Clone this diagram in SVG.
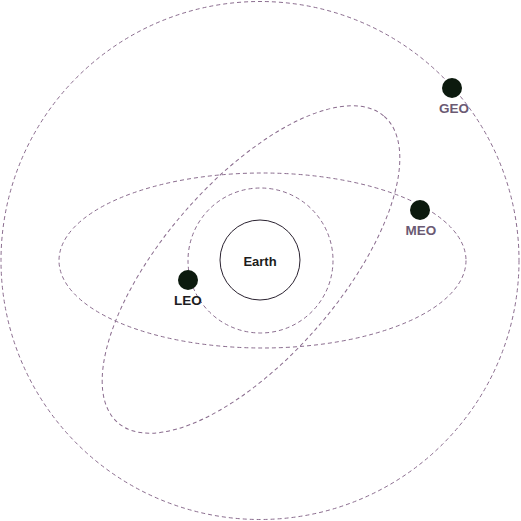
<svg xmlns="http://www.w3.org/2000/svg" width="521" height="521" viewBox="0 0 521 521">
<style>
.orbit{fill:none;stroke:#8a6c8e;stroke-width:1;stroke-dasharray:4 3}
.sat{fill:#0c1a0e}
.lbl{font-family:"Liberation Sans",Arial,sans-serif;font-weight:bold;font-size:13.5px;text-anchor:middle}
</style>
<rect width="521" height="521" fill="#ffffff"/>
<g id="orbits">
<circle id="geo-orbit" class="orbit" cx="260" cy="260.5" r="259"/>
<ellipse id="meo-orbit-h" class="orbit" cx="262.5" cy="260.5" rx="203.5" ry="87.5"/>
<ellipse id="meo-orbit-t" class="orbit" cx="251" cy="269.5" rx="203" ry="88" transform="rotate(-49 251 269.5)"/>
<circle id="leo-orbit" class="orbit" cx="260.5" cy="260.5" r="72.5"/>
</g>
<g id="earth">
<circle cx="260" cy="260" r="40" fill="#ffffff" stroke="#2a2230" stroke-width="1"/>
<text class="lbl" x="260" y="266" fill="#1c1c1c" style="font-size:13px">Earth</text>
</g>
<g id="leo">
<circle class="sat" cx="188" cy="280" r="10"/>
<text class="lbl" x="188" y="305" fill="#1c1c22">LEO</text>
</g>
<g id="meo">
<circle class="sat" cx="420" cy="210" r="10"/>
<text class="lbl" x="421" y="235" fill="#6b5a73">MEO</text>
</g>
<g id="geo">
<circle class="sat" cx="452" cy="88" r="10"/>
<text class="lbl" x="454" y="113" fill="#6b5a73">GEO</text>
</g>
</svg>
